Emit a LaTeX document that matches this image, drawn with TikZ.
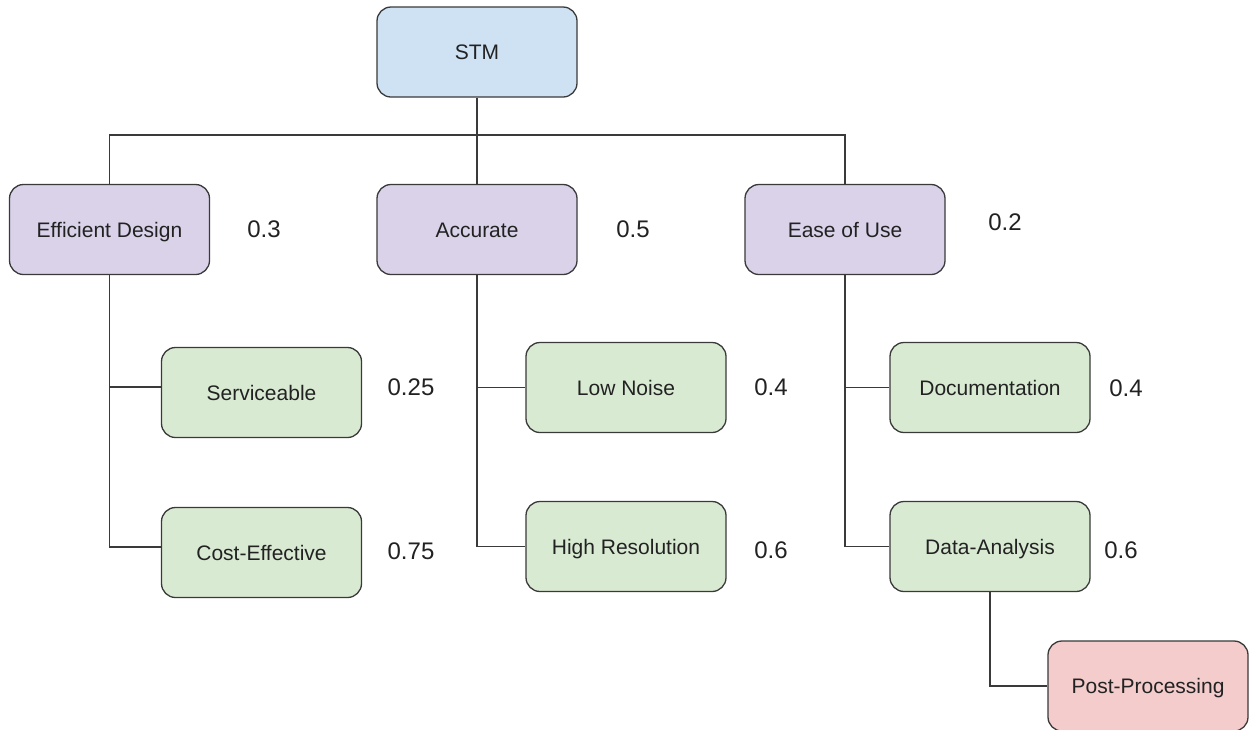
\documentclass[tikz,border=0pt]{standalone}
\usepackage{fontspec}
\setmainfont{Liberation Sans}
\definecolor{cblue}{HTML}{CFE2F3}
\definecolor{cpurple}{HTML}{D9D2E9}
\definecolor{cgreen}{HTML}{D9EAD3}
\definecolor{cred}{HTML}{F4CCCC}
\definecolor{cline}{HTML}{3A3A3A}
\definecolor{ctext}{HTML}{222222}
\begin{document}
\begin{tikzpicture}[x=1pt,y=-1pt,
  box/.style={draw=cline, line width=1.3pt, rounded corners=14pt, minimum width=200pt, minimum height=90pt, inner sep=0pt, text height=15pt, text depth=0pt, font=\fontsize{21}{25}\selectfont, text=ctext},
  wt/.style={font=\fontsize{24}{28}\selectfont, text=ctext, inner sep=0pt},
  conn/.style={draw=cline, line width=1.3pt}]
\clip (0,0) rectangle (1249,729);
\fill[white] (0,0) rectangle (1249,729);
\node[box, fill=cblue] (stm) at (477,52) {STM};
\node[box, fill=cpurple] (ed) at (109.5,229.5) {Efficient Design};
\node[box, fill=cpurple] (acc) at (477,229.5) {Accurate};
\node[box, fill=cpurple] (eou) at (845,229.5) {Ease of Use};
\node[box, fill=cgreen] (serv) at (261.5,392.5) {Serviceable};
\node[box, fill=cgreen] (cost) at (261.5,552.5) {Cost-Effective};
\node[box, fill=cgreen] (low) at (626,387.5) {Low Noise};
\node[box, fill=cgreen] (high) at (626,546.5) {High Resolution};
\node[box, fill=cgreen] (doc) at (990,387.5) {Documentation};
\node[box, fill=cgreen] (data) at (990,546.5) {Data-Analysis};
\node[box, fill=cred] (post) at (1148,686) {Post-Processing};
\coordinate (bus) at (477,135);
\draw[conn] (stm) -- (acc);
\draw[conn] (ed.north) -- (ed.north |- bus) -- (eou.north |- bus) -- (eou.north);
\draw[conn] (ed.south) |- ([yshift=5.5pt]cost.west);
\draw[conn] ([yshift=5.5pt]serv.west) -- ([yshift=5.5pt]serv.west -| ed.south);
\draw[conn] (acc.south) |- (high.west);
\draw[conn] (low.west) -- (low.west -| acc.south);
\draw[conn] (eou.south) |- (data.west);
\draw[conn] (doc.west) -- (doc.west -| eou.south);
\draw[conn] (data.south) |- (post.west);
\node[wt] (w1) at (264,229) {0.3};
\node[wt] (w2) at (633,229) {0.5};
\node[wt] (w3) at (1005,222) {0.2};
\node[wt] (w4) at (411,387) {0.25};
\node[wt] (w5) at (411,551) {0.75};
\node[wt] (w6) at (771,387) {0.4};
\node[wt] (w7) at (771,550) {0.6};
\node[wt] (w8) at (1126,388) {0.4};
\node[wt] (w9) at (1121,550) {0.6};
\end{tikzpicture}
\end{document}
